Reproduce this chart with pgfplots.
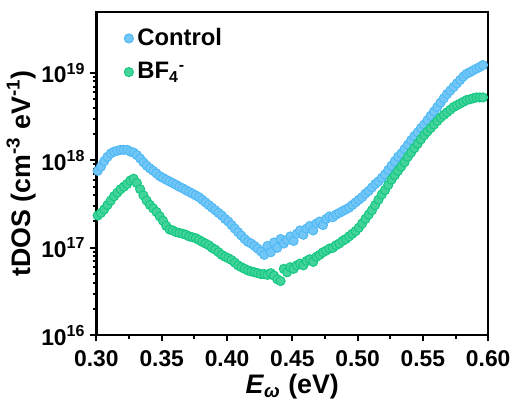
\documentclass[border=0pt]{standalone}
\usepackage{fontspec}
\setmainfont{Liberation Sans}
\usepackage{pgfplots}
\pgfplotsset{compat=1.18}
\definecolor{cblue}{RGB}{80,185,245}
\definecolor{cgreen}{RGB}{20,200,130}
\begin{document}
\begin{tikzpicture}
\begin{axis}[
  scale only axis,
  width=197.5pt, height=163pt,
  xmin=0.3, xmax=0.6,
  ymode=log, ymin=1e16, ymax=5e19,
  xtick={0.30,0.35,0.40,0.45,0.50,0.55,0.60},
  xticklabels={0.30,0.35,0.40,0.45,0.50,0.55,0.60},
  minor x tick num=1,
  ytick={1e16,1e17,1e18,1e19},
  yticklabels={10\textsuperscript{16},10\textsuperscript{17},10\textsuperscript{18},10\textsuperscript{19}},
  tick align=outside, xtick pos=bottom, ytick pos=left,
  major tick length=3pt, minor tick length=1.8pt,
  every tick/.style={black, line width=1pt},
  axis line style={line width=1.2pt},
  tick label style={font=\bfseries\fontsize{11.5}{13}\selectfont},
  xticklabel style={yshift=-1pt},
  yticklabel style={xshift=1pt},
  label style={font=\bfseries\fontsize{13.5}{15}\selectfont},
  xlabel={\textit{E}\textsubscript{\textit{ω}} (eV)},
  ylabel={tDOS (cm\textsuperscript{-3} eV\textsuperscript{-1})},
  xlabel style={yshift=3pt},
  ylabel shift=-4pt,
  legend style={draw=none, fill=none, at={(rel axis cs:0.055,0.975)}, anchor=north west,
    font=\bfseries\fontsize{12}{14}\selectfont, row sep=3pt},
  legend cell align=left,
  clip=false,
]
\addplot[only marks, mark=*, mark size=2.3pt, mark options={draw=cblue, fill=cblue!80!white, line width=0.5pt}] coordinates {
(0.301,7.6e17)(0.3035,8.5e17)(0.306,9.8e17)(0.3085,1.10e18)(0.311,1.20e18)(0.3135,1.26e18)
(0.316,1.29e18)(0.3185,1.32e18)(0.321,1.32e18)(0.3235,1.32e18)(0.326,1.26e18)(0.3285,1.23e18)
(0.331,1.15e18)(0.3335,1.05e18)(0.336,9.5e17)(0.3385,8.7e17)(0.341,8.1e17)(0.3435,7.6e17)
(0.346,7.1e17)(0.3485,6.6e17)(0.351,6.3e17)(0.3535,6.0e17)(0.356,5.75e17)(0.3585,5.5e17)
(0.361,5.25e17)(0.3635,5.0e17)(0.366,4.8e17)(0.3685,4.57e17)(0.371,4.37e17)(0.3735,4.17e17)
(0.376,3.98e17)(0.3785,3.8e17)(0.381,3.55e17)(0.3835,3.31e17)(0.386,3.09e17)(0.3885,2.88e17)
(0.391,2.69e17)(0.3935,2.51e17)(0.396,2.34e17)(0.3985,2.14e17)(0.401,2.0e17)(0.4035,1.82e17)
(0.406,1.66e17)(0.4085,1.51e17)(0.411,1.38e17)(0.4135,1.26e17)(0.416,1.17e17)(0.4185,1.12e17)
(0.421,1.05e17)(0.4235,9.8e16)(0.426,9.1e16)(0.4285,8.3e16)(0.431,1.05e17)(0.4335,8.9e16)
(0.436,1.15e17)(0.4385,1.0e17)(0.441,1.26e17)(0.4435,1.12e17)(0.446,1.23e17)(0.4485,1.35e17)
(0.451,1.2e17)(0.4535,1.45e17)(0.456,1.58e17)(0.4585,1.41e17)(0.461,1.66e17)(0.4635,1.78e17)
(0.466,1.58e17)(0.4685,1.9e17)(0.471,2.0e17)(0.4735,1.82e17)(0.476,2.14e17)(0.4785,2.29e17)
(0.481,2.24e17)(0.4835,2.4e17)(0.486,2.51e17)(0.4885,2.63e17)(0.491,2.75e17)(0.4935,2.88e17)
(0.496,3.09e17)(0.4985,3.31e17)(0.501,3.55e17)(0.5035,3.8e17)(0.506,4.17e17)(0.5085,4.47e17)
(0.511,4.9e17)(0.5135,5.37e17)(0.516,5.75e17)(0.5185,6.3e17)(0.521,6.9e17)(0.5235,7.76e17)
(0.526,8.7e17)(0.5285,9.77e17)(0.531,1.1e18)(0.5335,1.2e18)(0.536,1.35e18)(0.5385,1.51e18)
(0.541,1.7e18)(0.5435,1.9e18)(0.546,2.09e18)(0.5485,2.34e18)(0.551,2.57e18)(0.5535,2.88e18)
(0.556,3.24e18)(0.5585,3.63e18)(0.561,4.07e18)(0.5635,4.57e18)(0.566,5.13e18)(0.5685,5.75e18)
(0.571,6.3e18)(0.5735,6.9e18)(0.576,7.6e18)(0.5785,8.3e18)(0.581,9.1e18)(0.5835,9.8e18)
(0.586,1.02e19)(0.5885,1.07e19)(0.591,1.12e19)(0.5935,1.17e19)(0.596,1.23e19)
};
\addlegendentry{Control}
\addplot[only marks, mark=*, mark size=2.3pt, mark options={draw=cgreen, fill=cgreen!80!white, line width=0.5pt}] coordinates {
(0.301,2.34e17)(0.3035,2.51e17)(0.306,2.75e17)(0.3085,3.09e17)(0.311,3.47e17)(0.3135,3.89e17)
(0.316,4.27e17)(0.3185,4.68e17)(0.321,5.0e17)(0.3235,5.37e17)(0.326,5.89e17)(0.3285,6.17e17)
(0.331,5.5e17)(0.3335,4.68e17)(0.336,3.98e17)(0.3385,3.47e17)(0.341,3.09e17)(0.3435,2.82e17)
(0.346,2.57e17)(0.3485,2.29e17)(0.351,2.04e17)(0.3535,1.78e17)(0.356,1.62e17)(0.3585,1.58e17)
(0.361,1.51e17)(0.3635,1.48e17)(0.366,1.45e17)(0.3685,1.41e17)(0.371,1.35e17)(0.3735,1.32e17)
(0.376,1.29e17)(0.3785,1.23e17)(0.381,1.17e17)(0.3835,1.12e17)(0.386,1.07e17)(0.3885,1.0e17)
(0.391,9.55e16)(0.3935,8.9e16)(0.396,8.3e16)(0.3985,7.9e16)(0.401,7.6e16)(0.4035,7.24e16)
(0.406,6.76e16)(0.4085,6.3e16)(0.411,6.0e16)(0.4135,5.75e16)(0.416,5.5e16)(0.4185,5.37e16)
(0.421,5.25e16)(0.4235,5.13e16)(0.426,5.0e16)(0.4285,5.0e16)(0.431,4.9e16)(0.4335,5.13e16)
(0.436,4.8e16)(0.4385,4.37e16)(0.441,4.17e16)(0.4435,5.75e16)(0.446,5.25e16)(0.4485,6.0e16)
(0.451,5.75e16)(0.4535,6.3e16)(0.456,6.6e16)(0.4585,6.3e16)(0.461,7.08e16)(0.4635,7.4e16)
(0.466,6.9e16)(0.4685,7.9e16)(0.471,8.3e16)(0.4735,8.9e16)(0.476,9.3e16)(0.4785,9.8e16)
(0.481,1.0e17)(0.4835,1.07e17)(0.486,1.12e17)(0.4885,1.2e17)(0.491,1.26e17)(0.4935,1.35e17)
(0.496,1.45e17)(0.4985,1.55e17)(0.501,1.7e17)(0.5035,1.9e17)(0.506,2.14e17)(0.5085,2.4e17)
(0.511,2.69e17)(0.5135,3.09e17)(0.516,3.55e17)(0.5185,4.07e17)(0.521,4.57e17)(0.5235,5.25e17)
(0.526,6.03e17)(0.5285,6.76e17)(0.531,7.6e17)(0.5335,8.5e17)(0.536,9.55e17)(0.5385,1.1e18)
(0.541,1.23e18)(0.5435,1.38e18)(0.546,1.55e18)(0.5485,1.74e18)(0.551,1.95e18)(0.5535,2.14e18)
(0.556,2.34e18)(0.5585,2.57e18)(0.561,2.82e18)(0.5635,3.09e18)(0.566,3.31e18)(0.5685,3.55e18)
(0.571,3.8e18)(0.5735,4.07e18)(0.576,4.27e18)(0.5785,4.47e18)(0.581,4.68e18)(0.5835,4.9e18)
(0.586,5.0e18)(0.5885,5.13e18)(0.591,5.25e18)(0.5935,5.25e18)(0.596,5.25e18)
};
\addlegendentry{BF\textsubscript{4}\textsuperscript{-}}
\coordinate (SW) at (rel axis cs:0,0);
\coordinate (NE) at (rel axis cs:1,1);
\end{axis}
\path ([shift={(-47.5pt,-39pt)}]SW) rectangle ([shift={(13.5pt,6pt)}]NE);
\end{tikzpicture}
\end{document}
